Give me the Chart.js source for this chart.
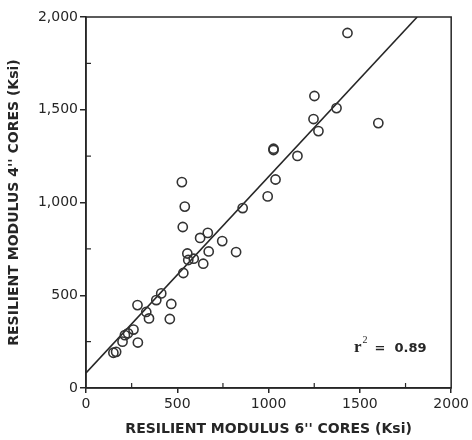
<!DOCTYPE html>
<html>
<head>
<meta charset="utf-8">
<script src="https://cdn.jsdelivr.net/npm/chart.js@4/dist/chart.umd.min.js"></script>
<style>
  html, body { margin: 0; padding: 0; background: #fff; }
  #wrap { width: 472px; height: 440px; }
</style>
</head>
<body>
<div id="wrap"><canvas id="chart"></canvas></div>
<script>
// resilient modulus, 6" cores (x) vs 4" cores (y), Ksi
const cores6 = [150, 165, 200, 213, 230, 260, 284, 282, 330, 345, 385, 412, 459, 467,
  533, 530, 525, 541, 555, 560, 590, 625, 642, 667, 672, 746, 822, 858,
  995, 1027, 1027, 1038, 1158, 1246, 1251, 1273, 1372, 1432, 1601];
const cores4 = [190, 195, 250, 285, 295, 315, 245, 447, 410, 375, 474, 510, 372, 453,
  620, 868, 1110, 978, 725, 690, 697, 809, 670, 836, 736, 792, 733, 970,
  1033, 1283, 1290, 1124, 1251, 1450, 1574, 1385, 1509, 1914, 1428];

// regression line
const fitIntercept = 81;
const fitSlope = 1.058;
const rSquared = '0.89';

const axisMin = 0;
const axisMax = 2000;

const ink = '#262626';
const tickFont = { family: 'DejaVu Sans', size: 14 };
const titleFont = { family: 'DejaVu Sans', size: 14, weight: 'bold' };

const points = cores6.map((x, i) => ({ x: x, y: cores4[i] }));
const fitEndX = (axisMax - fitIntercept) / fitSlope;
const fitLine = [
  { x: axisMin, y: fitIntercept },
  { x: fitEndX, y: fitIntercept + fitSlope * fitEndX }
];

// box around the plot, minor ticks on the inside, r2 note
const framePlugin = {
  id: 'frame',
  afterDraw(chart) {
    const { ctx, chartArea: a, scales } = chart;
    ctx.save();
    ctx.strokeStyle = ink;
    ctx.lineWidth = 1.5;
    ctx.strokeRect(a.left, a.top, a.right - a.left, a.bottom - a.top);

    ctx.lineWidth = 1.2;
    for (let v = 250; v < axisMax; v += 500) {
      const px = scales.x.getPixelForValue(v);
      ctx.beginPath();
      ctx.moveTo(px, a.bottom);
      ctx.lineTo(px, a.bottom - 5);
      ctx.stroke();
      const py = scales.y.getPixelForValue(v);
      ctx.beginPath();
      ctx.moveTo(a.left, py);
      ctx.lineTo(a.left + 5, py);
      ctx.stroke();
    }

    ctx.fillStyle = ink;
    ctx.textBaseline = 'alphabetic';
    let tx = 354, ty = 352;
    ctx.font = 'bold 17px "Liberation Serif"';
    ctx.fillText('r', tx, ty);
    tx += ctx.measureText('r').width;
    ctx.font = '10px "Liberation Serif"';
    ctx.fillText('2', tx + 1, ty - 9);
    tx += 13;
    ctx.font = 'bold 13px "DejaVu Sans"';
    ctx.fillText('=  ' + rSquared, tx, ty);
    ctx.restore();
  }
};

new Chart(document.getElementById('chart').getContext('2d'), {
  type: 'scatter',
  data: {
    datasets: [
      {
        label: 'cores',
        data: points,
        pointStyle: 'circle',
        pointRadius: 4.6,
        pointBorderWidth: 1.6,
        pointBorderColor: '#333',
        pointBackgroundColor: 'rgba(255,255,255,0)',
        showLine: false
      },
      {
        label: 'fit',
        type: 'line',
        data: fitLine,
        borderColor: ink,
        borderWidth: 1.6,
        pointRadius: 0,
        fill: false
      }
    ]
  },
  options: {
    responsive: true,
    maintainAspectRatio: false,
    animation: false,
    layout: { padding: { top: 17, right: 20, left: 0, bottom: 0 } },
    plugins: {
      legend: { display: false },
      tooltip: { enabled: false }
    },
    scales: {
      x: {
        type: 'linear',
        min: axisMin,
        max: axisMax,
        afterFit: s => { s.height = 52; },
        ticks: {
          stepSize: 500,
          color: ink,
          font: tickFont,
          padding: 3,
          maxRotation: 0,
          callback: v => String(v)
        },
        grid: { drawOnChartArea: false, color: ink, tickLength: 5, lineWidth: 1.5 },
        border: { color: ink, width: 1.5 },
        title: {
          display: true,
          text: 'RESILIENT MODULUS 6\'\' CORES (Ksi)',
          color: ink,
          font: titleFont,
          padding: { top: 0, bottom: 2 }
        }
      },
      y: {
        type: 'linear',
        min: axisMin,
        max: axisMax,
        afterFit: s => { s.width = 86; },
        ticks: {
          stepSize: 500,
          color: ink,
          font: tickFont,
          padding: 2,
          callback: v => v.toLocaleString('en-US')
        },
        grid: { drawOnChartArea: false, color: ink, tickLength: 6, lineWidth: 1.5 },
        border: { color: ink, width: 1.5 },
        title: {
          display: true,
          text: 'RESILIENT MODULUS 4\'\' CORES (Ksi)',
          color: ink,
          font: titleFont,
          padding: { top: 6, bottom: 4 }
        }
      }
    }
  },
  plugins: [framePlugin]
});
</script>
</body>
</html>
